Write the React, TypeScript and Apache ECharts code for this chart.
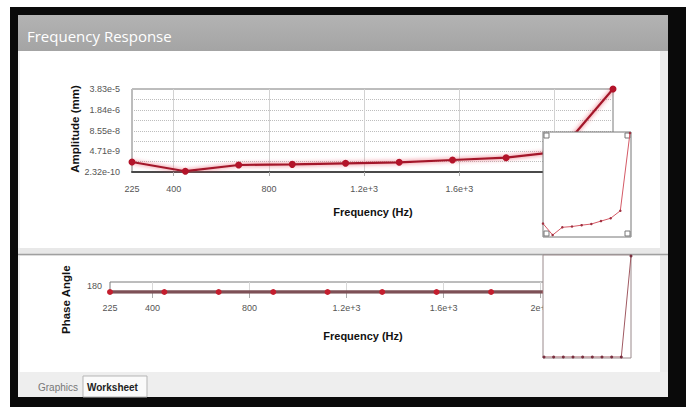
import React, { useEffect, useRef } from 'react';
import * as echarts from 'echarts';

const frequencies = [225, 449, 673, 898, 1122, 1347, 1571, 1796, 2020, 2245];
const amplitudes = [9.9e-10, 2.6e-10, 6.4e-10, 7.0e-10, 8.2e-10, 9.4e-10, 1.32e-9, 1.84e-9, 4.4e-9, 3.83e-5];
const phases = [180, 180, 180, 180, 180, 180, 180, 180, 180, 181];

const freqTickValues = [225, 400, 800, 1200, 1600, 2000];
const freqTickLabels = ['225', '400', '800', '1.2e+3', '1.6e+3', '2e+3'];
const freqGridValues = [400, 800, 1200, 1600, 2000];

const ampTickValues = [2.32e-10, 4.71e-9, 8.55e-8, 1.84e-6, 3.83e-5];
const ampTickLabels = ['2.32e-10', '4.71e-9', '8.55e-8', '1.84e-6', '3.83e-5'];
const ampGridValues = [2.32e-10, 1.05e-9, 4.71e-9, 2.0e-8, 8.55e-8, 3.97e-7, 1.84e-6, 8.4e-6, 3.83e-5];

const phaseTickValues = [180];
const phaseTickLabels = ['180'];

const FONT = 'Liberation Sans, Arial, sans-serif';

function nearestLabel(values: number[], labels: string[], v: number) {
  let best = 0;
  let bd = Infinity;
  values.forEach((t, i) => {
    const d = Math.abs(t - v);
    if (d < bd) { bd = d; best = i; }
  });
  return labels[best];
}

export default function App() {
  const ref = useRef<HTMLDivElement>(null);
  useEffect(() => {
    if (!ref.current) return;
    const chart = echarts.init(ref.current, undefined, { renderer: 'svg' });
    const lg = (v: number) => Math.log10(v);
    const ampLogTicks = ampTickValues.map(lg);
    const ampLogGrid = ampGridValues.map(lg);
    const ampData = frequencies.map((f, i) => [f, lg(amplitudes[i])]);
    const phaseData = frequencies.map((f, i) => [f, phases[i]]);
    const yMin = lg(ampTickValues[0]);
    const yMax = lg(ampTickValues[ampTickValues.length - 1]);
    const fMin = frequencies[0];
    const fMax = frequencies[frequencies.length - 1];

    const tickLabel = {
      fontSize: 9,
      color: '#555',
      fontFamily: FONT,
    };

    const option: any = {
      animation: false,
      backgroundColor: '#ffffff',
      grid: [
        { left: 132, top: 89, width: 481, height: 83, show: true, borderColor: '#7a7a7a', borderWidth: 1, backgroundColor: 'transparent' },
        { left: 110, top: 282, width: 490, height: 10, show: true, borderColor: '#7a7a7a', borderWidth: 1, backgroundColor: 'transparent' },
        { left: 543, top: 133, width: 87, height: 103 },
        { left: 544, top: 256, width: 87, height: 101 },
      ],
      xAxis: [
        {
          gridIndex: 0, type: 'value', min: fMin, max: fMax,
          axisLine: { show: true, lineStyle: { color: '#4a4a4a', width: 2 } },
          axisTick: { show: true, customValues: freqGridValues, length: 4, lineStyle: { color: '#aaa' } },
          axisLabel: {
            ...tickLabel, margin: 12, customValues: freqTickValues,
            formatter: (v: number) => nearestLabel(freqTickValues, freqTickLabels, v),
          },
          splitLine: { show: true, lineStyle: { color: '#d2d2d2', width: 1 } },
        },
        {
          gridIndex: 1, type: 'value', min: fMin, max: fMax,
          axisLine: { show: false },
          axisTick: { show: true, customValues: freqGridValues, length: 6, lineStyle: { color: '#aaa' } },
          axisLabel: {
            ...tickLabel, margin: 11, customValues: freqTickValues,
            formatter: (v: number) => nearestLabel(freqTickValues, freqTickLabels, v),
          },
          splitLine: { show: true, lineStyle: { color: '#d8d8d8', width: 1 } },
        },
        { gridIndex: 2, type: 'value', min: fMin, max: fMax, show: false },
        { gridIndex: 3, type: 'value', min: fMin, max: fMax, show: false },
      ],
      yAxis: [
        {
          gridIndex: 0, type: 'value', min: yMin, max: yMax,
          axisLine: { show: false },
          axisTick: { show: false, customValues: ampLogGrid },
          axisLabel: {
            ...tickLabel, margin: 12, customValues: ampLogTicks,
            formatter: (v: number) => nearestLabel(ampLogTicks, ampTickLabels, v),
          },
          splitLine: { show: true, lineStyle: { color: '#bdbdbd', type: 'dotted', width: 1 } },
        },
        {
          gridIndex: 1, type: 'value', min: 180, max: 181,
          axisLine: { show: false },
          axisTick: { show: false },
          axisLabel: {
            ...tickLabel, margin: 8, customValues: phaseTickValues, verticalAlign: 'bottom', padding: [0, 0, 2, 0],
            formatter: (v: number) => nearestLabel(phaseTickValues, phaseTickLabels, v),
          },
          splitLine: { show: false },
        },
        { gridIndex: 2, type: 'value', min: yMin, max: yMax, show: false },
        { gridIndex: 3, type: 'value', min: 180, max: 181, show: false },
      ],
      series: [
        {
          type: 'line', xAxisIndex: 0, yAxisIndex: 0, data: ampData, z: 3,
          symbol: 'circle', symbolSize: 7,
          lineStyle: { color: '#a3182a', width: 2.2, shadowBlur: 4, shadowColor: 'rgba(230,70,90,0.9)' },
          itemStyle: { color: '#b3142a' },
        },
        {
          type: 'line', xAxisIndex: 1, yAxisIndex: 1, data: phaseData, z: 3, clip: true,
          symbol: 'circle', symbolSize: 6,
          lineStyle: { color: '#7d5056', width: 3.5 },
          itemStyle: { color: '#c41e2e' },
        },
        {
          type: 'line', xAxisIndex: 2, yAxisIndex: 2, data: ampData, z: 7,
          symbol: 'circle', symbolSize: 2.5,
          lineStyle: { color: '#d45a66', width: 1 },
          itemStyle: { color: '#a03040' },
        },
        {
          type: 'line', xAxisIndex: 3, yAxisIndex: 3, data: phaseData, z: 7,
          symbol: 'circle', symbolSize: 3,
          lineStyle: { color: '#a05a62', width: 1 },
          itemStyle: { color: '#7a3040' },
        },
      ],
      graphic: [
        { type: 'rect', z: -9, shape: { x: 10, y: 7, width: 676, height: 400 }, style: { fill: '#0a0a0a' } },
        { type: 'rect', z: -8, shape: { x: 18, y: 15, width: 650, height: 382 }, style: { fill: '#f2f2f2' } },
        {
          type: 'rect', z: -7, shape: { x: 18, y: 15, width: 650, height: 36 },
          style: { fill: new echarts.graphic.LinearGradient(0, 0, 0, 1, [{ offset: 0, color: '#b3b3b3' }, { offset: 1, color: '#a4a4a4' }]) },
        },
        { type: 'rect', z: -7, shape: { x: 20, y: 51, width: 640, height: 197 }, style: { fill: '#ffffff' } },
        { type: 'rect', z: -7, shape: { x: 18, y: 248, width: 650, height: 7 }, style: { fill: '#e8e8e8' } },
        { type: 'line', z: -6, shape: { x1: 18, y1: 254.5, x2: 668, y2: 254.5 }, style: { stroke: '#a0a0a0', lineWidth: 1.5 } },
        { type: 'rect', z: -7, shape: { x: 20, y: 256, width: 640, height: 116 }, style: { fill: '#ffffff' } },
        { type: 'rect', z: -7, shape: { x: 660, y: 51, width: 8, height: 321 }, style: { fill: '#ebebeb' } },
        { type: 'rect', z: -7, shape: { x: 18, y: 372, width: 650, height: 25 }, style: { fill: '#eeeeee' } },
        { type: 'rect', z: -6, shape: { x: 83, y: 376, width: 64, height: 21 }, style: { fill: '#fafafa', stroke: '#b5b5b5', lineWidth: 1 } },
        { type: 'text', z: -5, x: 38, y: 387, style: { text: 'Graphics', fontSize: 10, fill: '#777', fontFamily: FONT, verticalAlign: 'middle' } },
        { type: 'text', z: -5, x: 87, y: 387, style: { text: 'Worksheet', fontSize: 10, fontWeight: 'bold', fill: '#222', fontFamily: FONT, verticalAlign: 'middle' } },
        { type: 'text', z: -5, x: 27, y: 36, style: { text: 'Frequency Response', fontSize: 15, fill: '#ffffff', fontFamily: 'Open Sans, sans-serif', verticalAlign: 'middle' } },
        { type: 'text', z: 1, x: 75, y: 129, rotation: Math.PI / 2, style: { text: 'Amplitude (mm)', fontSize: 11.5, fontWeight: 'bold', fill: '#111', fontFamily: FONT, align: 'center', verticalAlign: 'middle' } },
        { type: 'text', z: 1, x: 373, y: 212, style: { text: 'Frequency (Hz)', fontSize: 11, fontWeight: 'bold', fill: '#111', fontFamily: FONT, align: 'center', verticalAlign: 'middle' } },
        { type: 'text', z: 1, x: 66, y: 334, rotation: Math.PI / 2, style: { text: 'Phase Angle', fontSize: 11.5, fontWeight: 'bold', fill: '#111', fontFamily: FONT, align: 'left', verticalAlign: 'middle' } },
        { type: 'text', z: 1, x: 363, y: 336, style: { text: 'Frequency (Hz)', fontSize: 11, fontWeight: 'bold', fill: '#111', fontFamily: FONT, align: 'center', verticalAlign: 'middle' } },
        { type: 'rect', z: 5, shape: { x: 543, y: 132, width: 88, height: 105 }, style: { fill: '#ffffff', stroke: '#777', lineWidth: 1 } },
        { type: 'rect', z: 6, shape: { x: 544, y: 133, width: 5, height: 5 }, style: { fill: '#fff', stroke: '#777', lineWidth: 1 } },
        { type: 'rect', z: 6, shape: { x: 625, y: 133, width: 5, height: 5 }, style: { fill: '#fff', stroke: '#777', lineWidth: 1 } },
        { type: 'rect', z: 6, shape: { x: 544, y: 231, width: 5, height: 5 }, style: { fill: '#fff', stroke: '#777', lineWidth: 1 } },
        { type: 'rect', z: 6, shape: { x: 625, y: 231, width: 5, height: 5 }, style: { fill: '#fff', stroke: '#777', lineWidth: 1 } },
        { type: 'rect', z: 5, shape: { x: 543, y: 255, width: 88, height: 103 }, style: { fill: '#ffffff', stroke: '#9a8a8c', lineWidth: 1 } },
      ],
    };
    chart.setOption(option);
    return () => chart.dispose();
  }, []);
  return <div ref={ref} style={{ position: 'absolute', left: 0, top: 0, width: 686, height: 407 }} />;
}
